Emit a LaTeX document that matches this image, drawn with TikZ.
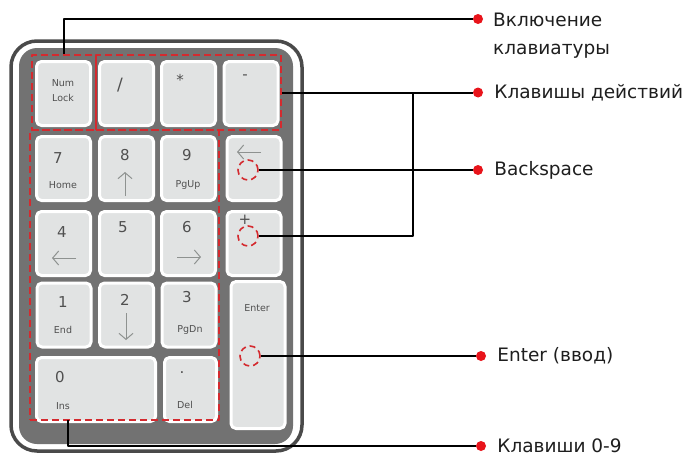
\documentclass[tikz,border=0pt]{standalone}
\usepackage{fontspec}
\setmainfont{DejaVu Sans}
\usetikzlibrary{arrows.meta,positioning}
\definecolor{kpRim}{HTML}{4A4A4A}
\definecolor{kpBody}{HTML}{727272}
\definecolor{kpKey}{HTML}{E1E3E3}
\definecolor{kpInk}{HTML}{505050}
\definecolor{kpArrow}{HTML}{8E9290}
\definecolor{kpRed}{HTML}{D42A2F}
\definecolor{kpDot}{HTML}{E8141B}
\definecolor{kpText}{HTML}{1E1E1E}
\tikzset{
 pad/.style={line join=round,text=kpInk},
 keycap/.style={rectangle,rounded corners=5pt,draw=white,line width=3pt,fill=kpKey,inner sep=0pt,minimum width=54pt,minimum height=64pt},
 group/.style={rectangle,draw=kpRed,line width=2.2pt,dash pattern=on 7pt off 4pt,inner sep=0pt},
 spot/.style={circle,draw=kpRed,line width=1.6pt,dash pattern=on 6pt off 4pt,inner sep=0pt,minimum size=20pt},
 tipdot/.style={circle,fill=kpDot,inner sep=0pt,minimum size=10pt},
 lead/.style={draw=black,line width=2pt},
 callout/.style={font=\fontsize{18.5}{28}\selectfont,text=kpText,anchor=west,inner sep=0pt},
 digit/.style={font=\fontsize{15}{15}\selectfont,text=kpInk,inner sep=0pt},
 subtext/.style={font=\fontsize{9.5}{14.5}\selectfont,text=kpInk,inner sep=0pt},
 keyarrow/.style={draw=kpArrow,line width=1pt,-{Straight Barb[length=6pt,width=14pt]}}
}
\begin{document}
\begin{tikzpicture}[pad,x=1pt,y=-1pt]
 \useasboundingbox (0,0) rectangle (693,458);
 % body
 \draw[kpRim,line width=3.5pt,fill=white,rounded corners=26pt] (11,41) rectangle (302,451);
 \fill[kpBody,rounded corners=18pt] (19,48) rectangle (293,444);
 % keys
 \foreach \n/\x/\y in {Num/63.5/93.5,Div/126.5/93.5,Mul/188.5/93.5,Sub/251/93.5,
   7/63.5/168.5,8/126.5/168.5,9/188.5/168.5,Back/254/168.5,
   4/63.5/243.5,5/126.5/243.5,6/188.5/243.5,Add/254/243.5,
   1/64/315,2/126.5/315,3/189/315}{\node[keycap] (k\n) at (\x,\y) {};}
 \node[keycap,minimum width=119pt] (k0) at (96,389.5) {};
 \node[keycap,minimum width=52pt] (kDel) at (190.5,389.5) {};
 \node[keycap,minimum height=147pt] (kEnter) at (258,355) {};
 % key legends
 \node[subtext,align=center] (tNum) at (63,90.5) {Num\\Lock};
 \node[digit,font=\fontsize{17}{17}\selectfont] (tDiv) at (120,85) {/};
 \node[digit] (tMul) at (180,80) {*};
 \node[digit] (tSub) at (245,77) {-};
 \node[digit] (t7) at (58,158) {7};
 \node[subtext] (tHome) at (63,185) {Home};
 \node[digit] (t8) at (125,155) {8};
 \node[digit] (t9) at (187,155) {9};
 \node[subtext] (tPgUp) at (188,185) {PgUp};
 \node[digit] (t4) at (62,232) {4};
 \node[digit] (t5) at (123,227) {5};
 \node[digit] (t6) at (187,227) {6};
 \node[digit] (tAdd) at (245,220) {+};
 \node[digit] (t1) at (63,302) {1};
 \node[subtext] (tEnd) at (63,330) {End};
 \node[digit] (t2) at (125,300) {2};
 \node[digit] (t3) at (187,297) {3};
 \node[subtext] (tPgDn) at (190,330) {PgDn};
 \node[digit] (t0) at (60,377) {0};
 \node[subtext] (tIns) at (63,406) {Ins};
 \node[digit] (tDot) at (182,373) {.};
 \node[subtext] (tDel) at (185,405) {Del};
 \node[subtext] (tEnter) at (257,308) {Enter};
 \draw[keyarrow] (125,196) -- (125,172);
 \draw[keyarrow] (76,258) -- (52,258);
 \draw[keyarrow] (177,257) -- (201,257);
 \draw[keyarrow] (126,313) -- (126,340);
 \draw[keyarrow] (261,152) -- (237,152);
 % groups and spots
 \node[group,minimum width=64pt,minimum height=75pt] (gNum) at (64,92.5) {};
 \node[group,minimum width=185pt,minimum height=75pt] (gAct) at (188.5,92.5) {};
 \node[group,minimum width=189pt,minimum height=290pt] (gDig) at (124.5,275) {};
 \node[spot] (sBack) at (248,170) {};
 \node[spot] (sAdd) at (248,236) {};
 \node[spot] (sEnter) at (250,356) {};
 % callouts
 \node[tipdot] (dNum) at (478,19) {};
 \node[tipdot] (dAct) at (478,92.5) {};
 \node[tipdot] (dBack) at (478,170) {};
 \node[tipdot] (dEnter) at (481,356) {};
 \node[tipdot] (dDig) at (481,446) {};
 \coordinate (jAct) at (413,92.5);
 \coordinate (gDigTap) at (68,420);
 \draw[lead] (gNum.north) |- (dNum);
 \draw[lead] (gAct.east) -- (dAct);
 \draw[lead] (sAdd.east) -| (jAct);
 \draw[lead] (sBack.east) -- (dBack);
 \draw[lead] (sEnter.east) -- (dEnter);
 \draw[lead] (gDigTap) |- (dDig);
 \node[callout,align=left,anchor=north west] (cNum) at (493,13) {Включение\\клавиатуры};
 \node[callout,right=11pt of dAct] (cAct) {Клавишы действий};
 \node[callout,right=11pt of dBack] (cBack) {Backspace};
 \node[callout,right=11pt of dEnter] (cEnter) {Enter (ввод)};
 \node[callout,right=11pt of dDig] (cDig) {Клавиши 0-9};
\end{tikzpicture}
\end{document}
